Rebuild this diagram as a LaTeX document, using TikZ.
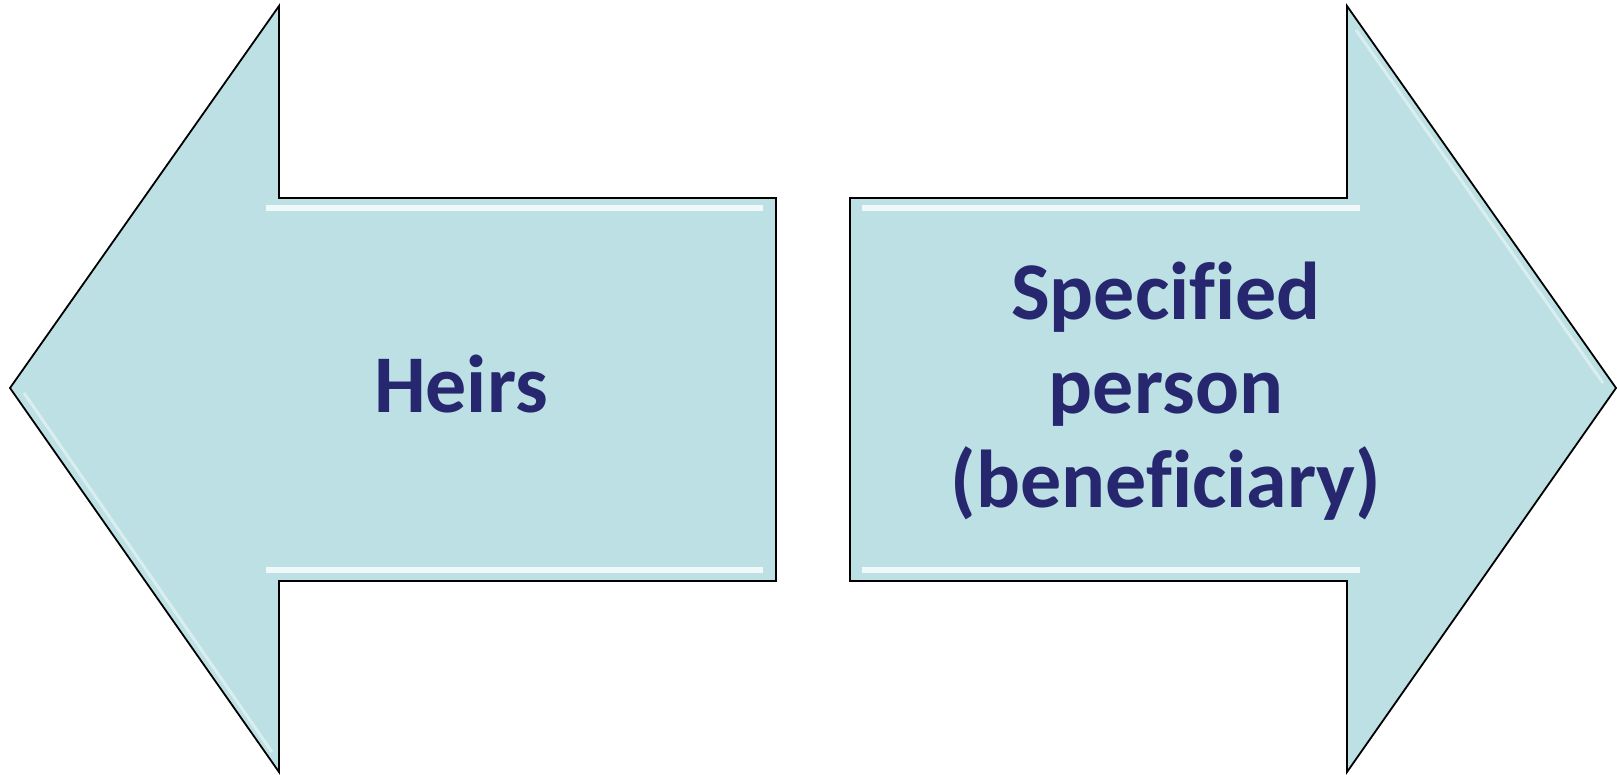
\documentclass[tikz,border=0pt]{standalone}
\usepackage{fontspec}
\setmainfont{Carlito}[Ligatures=NoCommon]
\definecolor{arrowfill}{RGB}{188,224,227}
\definecolor{textblue}{RGB}{39,39,111}
\tikzset{
  arrowshape/.style={draw=black, line width=1.8pt, fill=arrowfill, line join=miter},
  bevel/.style={draw=white, line width=6pt, opacity=0.8},
  diagbevel/.style={draw=white, line width=3pt, opacity=0.45},
  label/.style={text=textblue, font=\bfseries\fontsize{82}{94}\selectfont, align=center, inner sep=0pt}
}
\begin{document}
\begin{tikzpicture}[x=1pt,y=-1pt]
\useasboundingbox (0,0) rectangle (1617,774);
% left arrow
\path[arrowshape] (10,388) -- (279,6) -- (279,198) -- (776,198) -- (776,581) -- (279,581) -- (279,772) -- cycle;
\path[bevel] (266,208) -- (763,208);
\path[bevel] (266,570) -- (763,570);
\path[diagbevel] (24,393) -- (272,752);
% right arrow
\path[arrowshape] (1616,388) -- (1347,6) -- (1347,198) -- (850,198) -- (850,581) -- (1347,581) -- (1347,772) -- cycle;
\path[bevel] (862,208) -- (1360,208);
\path[bevel] (862,570) -- (1360,570);
\path[diagbevel] (1356,30) -- (1603,383);
% texts
\node[label, anchor=base] (heirs) at (461,412) {Heirs};
\node[label, anchor=base] (specified) at (1166,507) {Specified\\person\\(beneficiary)};
\end{tikzpicture}
\end{document}
